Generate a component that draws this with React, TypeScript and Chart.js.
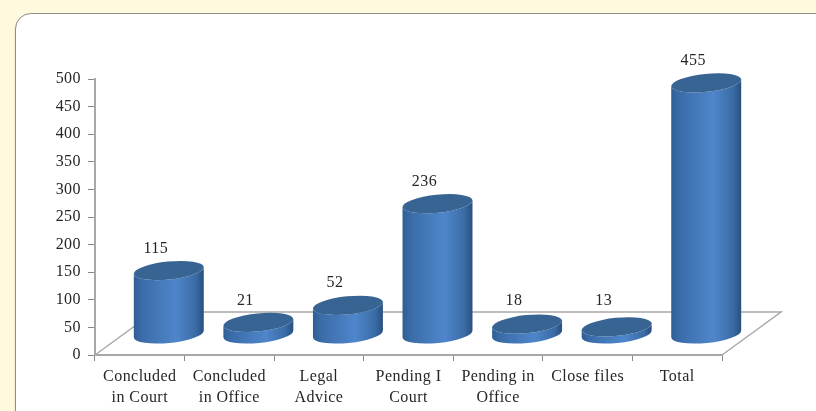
import React, { useEffect, useRef } from "react";
import { Chart, registerables } from "chart.js";

Chart.register(...registerables);

const categories = [
  ["Concluded", "in Court"],
  ["Concluded", "in Office"],
  ["Legal", "Advice"],
  ["Pending I", "Court"],
  ["Pending in", "Office"],
  ["Close files"],
  ["Total"],
];
const caseCounts = [115, 21, 52, 236, 18, 13, 455];
const yMax = 500;
const yStep = 50;

const DEPTH_X = 29;
const DEPTH_Y = -21;
const FLOOR_X = 59;
const FLOOR_Y = -43;
const TILT = -0.1;
const RY = 9;
const FONT = "16px 'Liberation Serif', serif";
const TEXT = "#262626";
const AXIS = "#a8a8a8";

const cylinderPlugin = {
  id: "cylinders",
  beforeDraw(chart: any) {
    chart.ctx.letterSpacing = "0.45px";
  },
  beforeDatasetsDraw(chart: any) {
    const { ctx, scales } = chart;
    const x0 = scales.x.left;
    const x1 = scales.x.right;
    const y0 = scales.y.bottom;
    ctx.save();
    ctx.strokeStyle = AXIS;
    ctx.lineWidth = 1.5;
    ctx.beginPath();
    ctx.moveTo(x0, y0);
    ctx.lineTo(x0 + FLOOR_X, y0 + FLOOR_Y);
    ctx.lineTo(x1 + FLOOR_X, y0 + FLOOR_Y);
    ctx.lineTo(x1, y0);
    ctx.stroke();

    const meta = chart.getDatasetMeta(0);
    meta.data.forEach((bar: any, i: number) => {
      const cx = bar.x + DEPTH_X;
      const rx = bar.width / 2;
      const top = scales.y.getPixelForValue(caseCounts[i]) + DEPTH_Y;
      const base = scales.y.getPixelForValue(0) + DEPTH_Y;
      const grad = ctx.createLinearGradient(cx - rx, 0, cx + rx, 0);
      grad.addColorStop(0, "#2f5e96");
      grad.addColorStop(0.12, "#3a6ca8");
      grad.addColorStop(0.6, "#4f86cb");
      grad.addColorStop(0.88, "#3a6ca6");
      grad.addColorStop(1, "#284f7e");
      ctx.fillStyle = grad;
      ctx.beginPath();
      ctx.ellipse(cx, base, rx, RY, TILT, 0, Math.PI);
      ctx.ellipse(cx, top, rx, RY, TILT, Math.PI, 0, true);
      ctx.closePath();
      ctx.fill();
      ctx.fillStyle = "#386494";
      ctx.beginPath();
      ctx.ellipse(cx, top, rx, RY, TILT, 0, Math.PI * 2);
      ctx.fill();

      ctx.fillStyle = TEXT;
      ctx.font = FONT;
      ctx.textAlign = "center";
      ctx.textBaseline = "middle";
      ctx.fillText(String(caseCounts[i]), cx - 13, Math.min(top - 22, 301));
    });
    ctx.restore();
  },
};

export default function App() {
  const ref = useRef<HTMLCanvasElement | null>(null);
  useEffect(() => {
    const chart = new Chart(ref.current as HTMLCanvasElement, {
      type: "bar",
      data: {
        labels: categories as any,
        datasets: [
          {
            data: caseCounts,
            backgroundColor: "rgba(0,0,0,0)",
            barPercentage: 0.785,
            categoryPercentage: 1,
          },
        ],
      },
      options: {
        responsive: false,
        animation: false,
        layout: { padding: { left: 0, top: 79, right: 94, bottom: 0 } },
        plugins: { legend: { display: false }, tooltip: { enabled: false } },
        scales: {
          x: {
            afterFit: (s: any) => {
              s.height = 56;
            },
            border: { color: AXIS, width: 2 },
            grid: { drawOnChartArea: false, color: "#888888", tickLength: 6, offset: true },
            ticks: {
              autoSkip: false,
              maxRotation: 0,
              minRotation: 0,
              color: TEXT,
              padding: 6,
              font: { family: "'Liberation Serif', serif", size: 16, lineHeight: 1.28 },
            },
          },
          y: {
            min: 0,
            max: yMax,
            afterFit: (s: any) => {
              s.width = 95;
            },
            border: { color: AXIS, width: 2 },
            grid: { drawOnChartArea: false, color: "#888888", tickLength: 7 },
            ticks: {
              stepSize: yStep,
              color: TEXT,
              padding: 7,
              font: { family: "'Liberation Serif', serif", size: 16 },
            },
          },
        },
      },
      plugins: [cylinderPlugin],
    } as any);
    return () => chart.destroy();
  }, []);

  return (
    <div style={{ position: "fixed", inset: 0, width: 816, height: 411, background: "#fff9dd", overflow: "hidden" }}>
      <div
        style={{
          position: "absolute",
          left: 15,
          top: 13,
          width: 830,
          height: 440,
          background: "#ffffff",
          border: "1px solid #8f8f88",
          borderRadius: 16,
          boxSizing: "border-box",
          boxShadow: "0 1px 2px rgba(0,0,0,0.15)",
        }}
      />
      <canvas
        ref={ref}
        width={816}
        height={411}
        style={{ position: "absolute", left: 0, top: 0, display: "block", filter: "blur(0.4px)" }}
      />
    </div>
  );
}
